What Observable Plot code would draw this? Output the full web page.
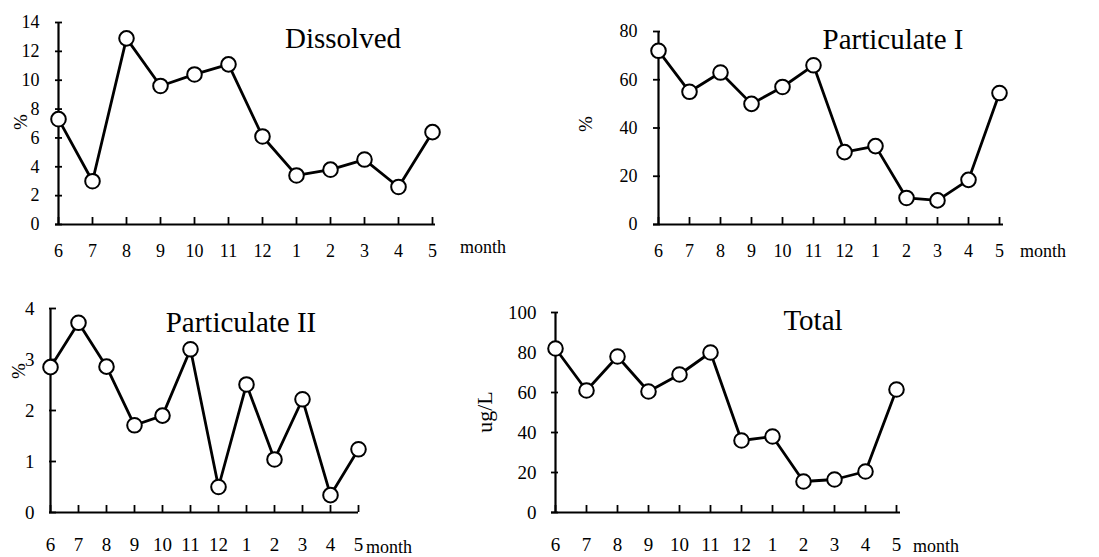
<!DOCTYPE html>
<html>
<head>
<meta charset="utf-8">
<script src="https://cdn.jsdelivr.net/npm/d3@7"></script>
<script src="https://cdn.jsdelivr.net/npm/@observablehq/plot@0.6"></script>
<style>
  html, body { margin: 0; padding: 0; background: white; }
  #root { position: relative; width: 1099px; height: 557px; overflow: hidden; font-family: "Liberation Serif", "Times New Roman", serif; }
  .panel { position: absolute; }
  .panel svg { overflow: visible; }
  .lbl { position: absolute; white-space: nowrap; color: black; line-height: 1; }
</style>
</head>
<body>
<div id="root"></div>
<script>
const months = ["6","7","8","9","10","11","12","1","2","3","4","5"];
const dissolved = [7.3, 3.0, 12.9, 9.6, 10.4, 11.1, 6.1, 3.4, 3.8, 4.5, 2.6, 6.4];
const particulateI = [72, 55, 63, 50, 57, 66, 30, 32.5, 11, 10, 18.5, 54.5];
const particulateII = [2.85, 3.72, 2.86, 1.71, 1.9, 3.2, 0.5, 2.51, 1.04, 2.22, 0.34, 1.24];
const total = [82, 61, 78, 60.5, 69, 80, 36, 38, 15.5, 16.5, 20.5, 61.5];
const ticksDissolved = [0, 2, 4, 6, 8, 10, 12, 14];
const ticksPartI = [0, 20, 40, 60, 80];
const ticksPartII = [0, 1, 2, 3, 4];
const ticksTotal = [0, 20, 40, 60, 80, 100];

const root = document.getElementById("root");

function addLabel(text, x, y, size, rotate) {
  const d = document.createElement("div");
  d.className = "lbl";
  d.textContent = text;
  d.style.left = x + "px";
  d.style.top = y + "px";
  d.style.fontSize = size + "px";
  d.style.transform = "translate(-50%,-50%)" + (rotate ? " rotate(-90deg)" : "");
  root.appendChild(d);
}
function addLeftLabel(text, x, y, size) {
  const d = document.createElement("div");
  d.className = "lbl";
  d.textContent = text;
  d.style.left = x + "px";
  d.style.top = y + "px";
  d.style.fontSize = size + "px";
  d.style.transform = "translate(0,-50%)";
  root.appendChild(d);
}

function panel(cfg) {
  const data = months.map((m, i) => ({m, v: cfg.values[i]}));
  const innerW = cfg.W - cfg.mL - cfg.mR;
  const innerH = cfg.H - cfg.mT - cfg.mB;
  const tick = 7;
  const plot = Plot.plot({
    width: cfg.W, height: cfg.H,
    marginLeft: cfg.mL, marginRight: cfg.mR, marginTop: cfg.mT, marginBottom: cfg.mB,
    style: {fontFamily: '"Liberation Serif", "Times New Roman", serif', fontSize: cfg.fs + "px", color: "black", background: "transparent", overflow: "visible"},
    x: {type: "point", domain: months, padding: 0},
    y: {domain: cfg.domain, nice: false},
    marks: [
      Plot.axisY({ticks: cfg.ticks, tickSize: 0, tickPadding: cfg.yPad, label: null, fontSize: cfg.fs, tickFormat: d => String(d)}),
      Plot.axisX({tickSize: 0, tickPadding: cfg.xPad, label: null, fontSize: cfg.fs}),
      Plot.tickY(cfg.ticks, {y: d => d, insetRight: innerW - tick, stroke: "black", strokeWidth: 1.8}),
      Plot.tickX(months, {x: d => d, insetTop: innerH - tick, stroke: "black", strokeWidth: 1.8}),
      Plot.ruleY([0], {stroke: "black", strokeWidth: 2.2}),
      Plot.ruleX([months[0]], {stroke: "black", strokeWidth: 2.2}),
      Plot.line(data, {x: "m", y: "v", stroke: "black", strokeWidth: 2.8}),
      Plot.dot(data, {x: "m", y: "v", r: 7.3, fill: "white", stroke: "black", strokeWidth: 2})
    ]
  });
  const wrap = document.createElement("div");
  wrap.className = "panel";
  wrap.style.left = cfg.left + "px";
  wrap.style.top = cfg.top + "px";
  wrap.appendChild(plot);
  root.appendChild(wrap);
}

panel({values: dissolved, domain: [0, 14], ticks: ticksDissolved, left: 0, top: 0, W: 545, H: 280, mL: 55, mR: 110, mT: 22, mB: 56, xPad: 20, yPad: 16, fs: 18});
panel({values: particulateI, domain: [0, 80], ticks: ticksPartI, left: 545, top: 0, W: 554, H: 280, mL: 108, mR: 96, mT: 31, mB: 56, xPad: 20, yPad: 16, fs: 18});
panel({values: particulateII, domain: [0, 4], ticks: ticksPartII, left: 0, top: 280, W: 480, H: 277, mL: 49, mR: 122, mT: 28, mB: 45, xPad: 25, yPad: 15, fs: 19});
panel({values: total, domain: [0, 100], ticks: ticksTotal, left: 480, top: 280, W: 619, H: 277, mL: 71, mR: 199, mT: 32, mB: 45, xPad: 25, yPad: 15, fs: 19});

addLabel("Dissolved", 343, 38, 29);
addLabel("Particulate I", 893, 39, 29);
addLabel("Particulate II", 241, 322, 29);
addLabel("Total", 813, 320, 29);
addLabel("%", 20, 122, 19, true);
addLabel("%", 585, 124, 19, true);
addLabel("%", 18, 371, 19, true);
addLabel("ug/L", 485, 412, 22, true);
addLeftLabel("month", 460, 247, 18);
addLeftLabel("month", 1020, 251, 18);
addLeftLabel("month", 366, 547, 18);
addLeftLabel("month", 913, 546, 18);
</script>
</body>
</html>
